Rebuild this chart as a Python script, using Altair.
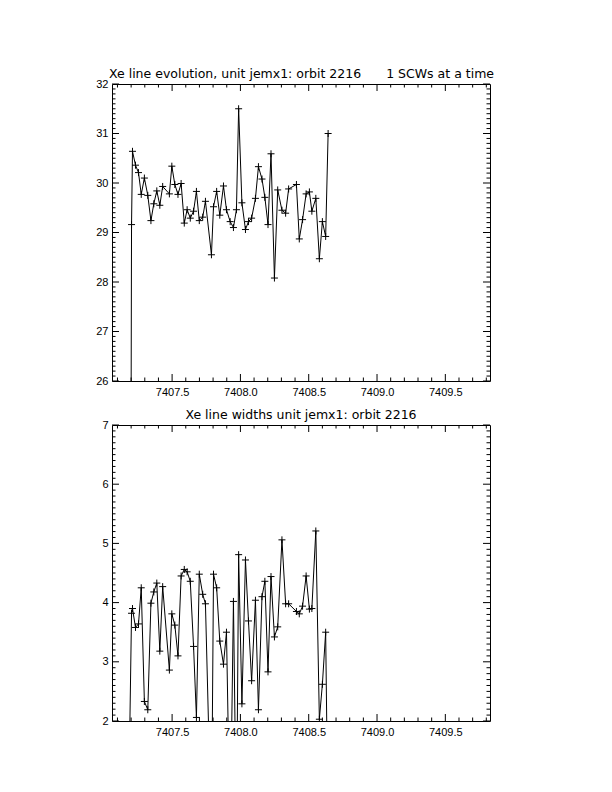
import altair as alt
import pandas as pd

FONT = "Liberation Sans"
TFONT = "DejaVu Sans"
PLUS = "M-1,0L1,0M0,-1L0,1"

# observation times (days)
times = [7407.178, 7407.203, 7407.210, 7407.232, 7407.254, 7407.274, 7407.297, 7407.322,
         7407.345, 7407.366, 7407.388, 7407.410, 7407.431, 7407.480, 7407.498, 7407.520,
         7407.543, 7407.566, 7407.589, 7407.610, 7407.633, 7407.657, 7407.678, 7407.699,
         7407.724, 7407.744, 7407.788, 7407.803, 7407.826, 7407.849, 7407.876, 7407.898,
         7407.925, 7407.949, 7407.971, 7407.987, 7408.011, 7408.037, 7408.059, 7408.082,
         7408.110, 7408.132, 7408.158, 7408.179, 7408.202, 7408.224, 7408.249, 7408.273,
         7408.304, 7408.331, 7408.353, 7408.410, 7408.431, 7408.455, 7408.481, 7408.505,
         7408.523, 7408.552, 7408.578, 7408.600, 7408.624, 7408.642]

# Xe line centroid (top panel)
centroid = [0.0, 29.16, 30.64, 30.36, 30.21, 29.77, 30.10, 29.75,
            29.24, 29.58, 29.84, 29.55, 29.93, 29.78, 30.34, 29.97,
            29.77, 29.99, 29.19, 29.46, 29.29, 29.43, 29.83, 29.24,
            29.31, 29.63, 28.55, 29.52, 29.83, 29.35, 29.94, 29.46,
            29.22, 29.10, 29.46, 31.50, 29.60, 29.06, 29.22, 29.29,
            29.69, 30.33, 30.08, 29.71, 29.16, 30.59, 28.08, 29.86,
            29.45, 29.39, 29.88, 29.97, 28.87, 29.26, 29.78, 29.82,
            29.43, 29.69, 28.47, 29.22, 28.92, 31.00]

# Xe line widths (bottom panel)
widths = [0.0, 3.82, 3.90, 3.58, 3.64, 4.25, 2.33, 2.19,
          3.99, 4.18, 4.33, 3.18, 4.27, 2.86, 3.81, 3.62,
          3.10, 4.45, 4.56, 4.52, 4.36, 3.26, 2.06, 4.48,
          4.14, 3.98, 0.0, 4.48, 4.25, 3.35, 2.96, 3.50,
          0.0, 4.02, 0.0, 4.81, 2.29, 4.72, 3.69, 2.68,
          4.04, 2.19, 4.10, 4.36, 2.83, 4.44, 3.42, 3.59,
          5.06, 3.98, 3.98, 3.85, 3.81, 3.94, 4.45, 3.89,
          3.90, 5.21, 2.03, 2.62, 3.50, 0.0]

x_domain = [7407.06, 7409.827]
x_major = [7407.5, 7408.0, 7408.5, 7409.0, 7409.5]
x_minor = [round(7407.1 + 0.1 * i, 1) for i in range(28)]
x_minor = [v for v in x_minor if v not in x_major]

top_domain = [26, 32]
top_major = [26, 27, 28, 29, 30, 31, 32]
top_minor = [round(26 + 0.1 * i, 1) for i in range(61) if i % 10 != 0]

bot_domain = [2, 7]
bot_major = [2, 3, 4, 5, 6, 7]
bot_minor = [round(2 + 0.1 * i, 1) for i in range(51) if i % 10 != 0]

top_title = "Xe line evolution, unit jemx1: orbit 2216"
top_side = "1 SCWs at a time"
bot_title = "Xe line widths unit jemx1: orbit 2216"

W = 378
MAJ = 7
MIN = 3.5


def make_panel(values, ydom, ymaj, ymin, H, texts):
    df = pd.DataFrame({"t": times, "v": values})
    xs = alt.Scale(domain=x_domain, nice=False, zero=False)
    ys = alt.Scale(domain=ydom, nice=False, zero=False)
    X = alt.X("t:Q", scale=xs, title=None,
              axis=alt.Axis(values=x_major, format=".1f", ticks=False, domain=False,
                            grid=False, labelPadding=5, labelFont=FONT, labelFontSize=11,
                            labelColor="black", minExtent=18, maxExtent=18, labelFlush=False))
    Y = alt.Y("v:Q", scale=ys, title=None,
              axis=alt.Axis(values=ymaj, format="d", ticks=False, domain=False,
                            grid=False, labelPadding=4, labelFont=FONT, labelFontSize=11,
                            labelColor="black", minExtent=22, maxExtent=22, labelFlush=False))
    line = alt.Chart(df).mark_line(color="black", strokeWidth=1, clip=True).encode(x=X, y=Y)
    pts = alt.Chart(df).mark_point(shape=PLUS, size=49, filled=False, color="black",
                                   strokeWidth=1, opacity=1, clip=True).encode(x=X, y=Y)
    layers = [line, pts]
    for vals, L in ((x_major, MAJ), (x_minor, MIN)):
        d = pd.DataFrame({"t": vals})
        layers.append(alt.Chart(d).mark_rule(color="black", strokeWidth=1).encode(
            x=X, y=alt.value(H), y2=alt.value(H - L)))
        layers.append(alt.Chart(d).mark_rule(color="black", strokeWidth=1).encode(
            x=X, y=alt.value(0), y2=alt.value(L)))
    for vals, L in ((ymaj, MAJ), (ymin, MIN)):
        d = pd.DataFrame({"v": vals})
        layers.append(alt.Chart(d).mark_rule(color="black", strokeWidth=1).encode(
            y=Y, x=alt.value(0), x2=alt.value(L)))
        layers.append(alt.Chart(d).mark_rule(color="black", strokeWidth=1).encode(
            y=Y, x=alt.value(W), x2=alt.value(W - L)))
    for label, xpos, align in texts:
        tdf = pd.DataFrame({"label": [label]})
        layers.append(alt.Chart(tdf).mark_text(align=align, baseline="alphabetic",
                                               font=TFONT, fontSize=12.5, color="black").encode(
            x=alt.value(xpos), y=alt.value(-6), text="label:N"))
    return alt.layer(*layers).properties(width=W, height=H)


top = make_panel(centroid, top_domain, top_major, top_minor, 297,
                 [(top_title, -3, "left"), (top_side, W + 4, "right")])
bottom = make_panel(widths, bot_domain, bot_major, bot_minor, 296,
                    [(bot_title, W / 2, "center")])

chart = alt.vconcat(top, bottom, spacing=8).properties(
    padding={"left": 81, "top": 59, "right": 5, "bottom": 5},
    background="white",
).configure_view(stroke="black", strokeWidth=1)

chart.save("out.html", embed_options={"renderer": "svg", "actions": False})
